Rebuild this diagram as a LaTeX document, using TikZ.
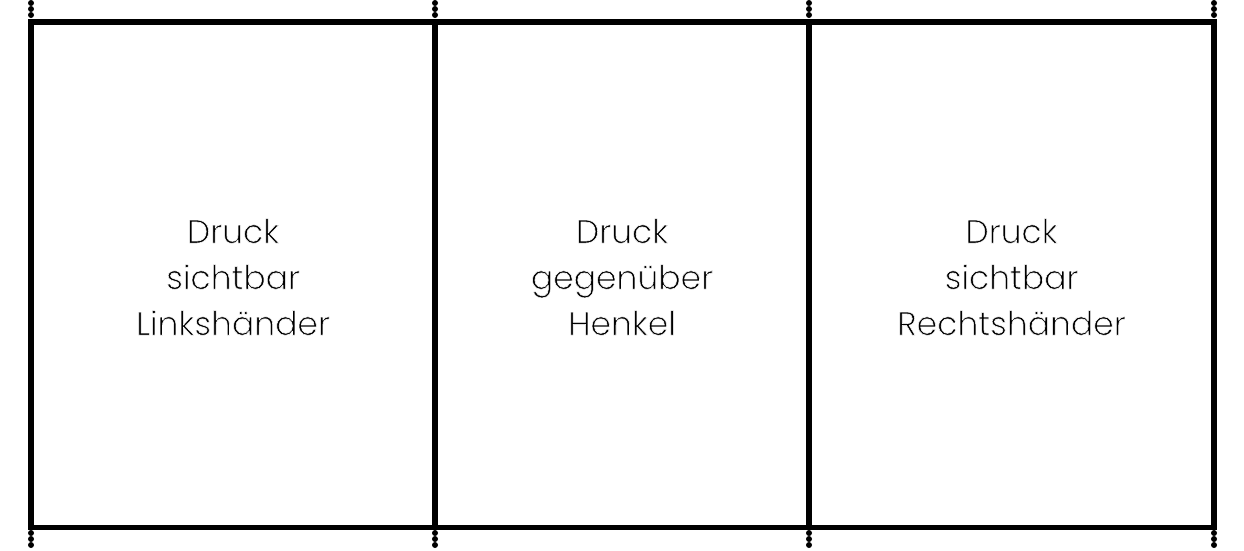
\documentclass[tikz,border=0pt]{standalone}
\usepackage{fontspec}
\setmainfont{Poppins}[UprightFont=*-Light]
\newcommand{\thintext}[1]{\special{pdf:code 2 Tr 1 1 1 RG 0.55 w 1 j}#1\special{pdf:code 0 Tr 0 0 0 RG}}
\begin{document}
\begin{tikzpicture}[x=1pt,y=-1pt,
  frameline/.style={line width=5.5pt},
  dotmark/.style={circle,fill=black,inner sep=0pt,minimum size=6pt},
  label/.style={align=center,font=\fontsize{33}{46}\selectfont}]
\useasboundingbox (0,0) rectangle (1244,550);
\coordinate (tl) at (31,22);
\coordinate (br) at (1214,527.5);
\draw[frameline] (tl) rectangle (br);
\coordinate (t1) at (435,22); \coordinate (b1) at (435,527.5);
\coordinate (t2) at (809,22); \coordinate (b2) at (809,527.5);
\draw[frameline] (t1) -- (b1);
\draw[frameline] (t2) -- (b2);
\foreach \x [count=\i] in {31,435,809,1214}{
  \foreach \y [count=\j] in {3,9,15,533,539,545}{
    \node[dotmark] (d\i\j) at (\x,\y) {};
  }
}
\node[label] (n1) at (233,277) {\thintext{Druck}\\\thintext{sichtbar}\\\thintext{Linkshänder}};
\node[label] (n2) at (622,277) {\thintext{Druck}\\\thintext{gegenüber}\\\thintext{Henkel}};
\node[label] (n3) at (1011.5,277) {\thintext{Druck}\\\thintext{sichtbar}\\\thintext{Rechtshänder}};
\end{tikzpicture}
\end{document}
